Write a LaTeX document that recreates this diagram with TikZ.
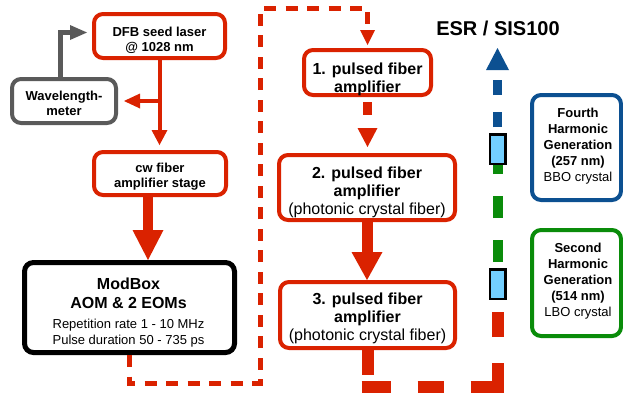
\documentclass[tikz,border=0pt]{standalone}
\usepackage{fontspec}
\setmainfont{Liberation Sans}
\usetikzlibrary{arrows.meta,calc}
\definecolor{myred}{RGB}{218,34,0}
\definecolor{myblue}{RGB}{12,80,145}
\definecolor{mygreen}{RGB}{10,140,10}
\definecolor{mygray}{RGB}{90,90,90}
\definecolor{crys}{RGB}{115,207,255}
\begin{document}
\begin{tikzpicture}[x=1pt,y=-1pt,line join=miter,
  box/.style={draw, rounded corners=9pt, line width=4pt, fill=white, inner sep=0pt},
  redbox/.style={box, draw=myred},
  txt/.style={align=center, inner sep=0pt, anchor=north, font=\fontsize{13}{15}\selectfont\bfseries},
  bigtxt/.style={txt, font=\fontsize{16}{18.2}\selectfont\bfseries},
  crystal/.style={draw=black, fill=crys, line width=2.5pt, inner sep=0pt, minimum width=15.5pt, minimum height=29.5pt},
  beamred/.style={draw=myred, line width=12pt}
]
\useasboundingbox (0,0) rectangle (623,392);

% boxes
\node[redbox, minimum width=131pt, minimum height=44pt] (dfb) at (159.5,36) {};
\node[box, draw=mygray, minimum width=104pt, minimum height=44pt] (wm) at (64,101) {};
\node[redbox, minimum width=132pt, minimum height=43pt] (cw) at (160,173.5) {};
\node[box, draw=black, line width=5pt, minimum width=210pt, minimum height=90pt] (mb) at (129.5,307.5) {};
\node[redbox, minimum width=127pt, minimum height=45pt] (b1) at (367.5,72.5) {};
\node[redbox, minimum width=176pt, minimum height=65pt] (b2) at (367,187.5) {};
\node[redbox, minimum width=175pt, minimum height=66pt] (b3) at (367.5,315) {};
\node[box, draw=myblue, minimum width=89pt, minimum height=105pt] (fh) at (576.5,147.5) {};
\node[box, draw=mygreen, minimum width=89pt, minimum height=106pt] (sh) at (576.5,283) {};
\node[crystal] (cr1) at (497.5,149) {};
\node[crystal] (cr2) at (497.5,284) {};

% texts
\node[txt] (dfbt) at (159.5,27.2) {DFB seed laser\\@ 1028 nm};
\node[txt] (wmt) at (64,90.5) {Wavelength-\\meter};
\node[txt] (cwt) at (160,162.5) {cw fiber\\amplifier stage};
\node[txt, font=\fontsize{16}{19.3}\selectfont\bfseries] (mbt) at (128.5,277.3) {ModBox\\AOM \& 2 EOMs};
\node[txt, font=\fontsize{13}{15.7}\selectfont] (mbd) at (128.5,319) {Repetition rate 1 - 10 MHz\\Pulse duration 50 - 735 ps};
\node[bigtxt] (b1t) at (367.5,62.3) {1. pulsed fiber\\amplifier};
\node[bigtxt] (b2t) at (367,166.6) {2. pulsed fiber\\amplifier\\{\mdseries (photonic crystal fiber)}};
\node[bigtxt] (b3t) at (367.5,292.3) {3. pulsed fiber\\amplifier\\{\mdseries (photonic crystal fiber)}};
\node[txt, font=\fontsize{13}{15.9}\selectfont\bfseries] (fht) at (578,107.8) {Fourth\\Harmonic\\Generation\\(257 nm)\\{\mdseries BBO crystal}};
\node[txt, font=\fontsize{13}{16}\selectfont\bfseries] (sht) at (578,242.8) {Second\\Harmonic\\Generation\\(514 nm)\\{\mdseries LBO crystal}};
\node[inner sep=0pt, anchor=base, font=\fontsize{20}{24}\selectfont\bfseries] (esr) at (498,35) {ESR / SIS100};

% coordinates
\coordinate (wmtip) at (87,32.5);
\coordinate (wmfoot) at ($(wm.north)+(-3.5,0)$);
\coordinate (br) at (dfb.south |- wm.east);
\coordinate (cwo) at ($(cw.south)+(-12,0)$);
\coordinate (d2) at (260,383);
\coordinate (d3) at (260,8);
\coordinate (d4) at (367.5,8);
\coordinate (c1) at (367.5,387);
\coordinate (c2) at (497.5,387);
\coordinate (esrtip) at (497.5,48);

% connectors
\draw[mygray, line width=5pt, -{Triangle[length=17pt,width=15pt,line width=0pt]}] (wmfoot) |- (wmtip);
\draw[myred, line width=4pt, shorten >=5pt, -{Triangle[length=15pt,width=16pt,line width=0pt]}] (dfb.south) -- (dfb.south |- cw.north);
\draw[myred, line width=3.5pt, shorten >=6pt, -{Triangle[length=16pt,width=15pt,line width=0pt]}] (br) -- (wm.east);
\draw[myred, line width=10pt, -{Triangle[length=30pt,width=31pt,line width=0pt]}] (cwo) -- (cwo |- mb.north);
\draw[myred, line width=5pt, dash pattern=on 12pt off 9.5pt, shorten >=3pt, -{Triangle[length=15pt,width=15pt,line width=0pt]}]
  (mb.south) -- (mb.south |- d2) -- (d2) -- (d3) -- (d4) -- (d4 |- b1.north);
\draw[myred, line width=9pt, dash pattern=on 13pt off 13pt, dash phase=21pt, shorten >=6pt, -{Triangle[length=19pt,width=20pt,line width=0pt]}]
  (b1.south) -- (b1.south |- b2.north);
\draw[myred, line width=11pt, -{Triangle[length=28pt,width=31pt,line width=0pt]}] (b2.south) -- (b2.south |- b3.north);

% beam
\draw[beamred, dash pattern=on 25pt off 40pt] (b3.south) -- (c1);
\draw[beamred, dash pattern=on 29pt off 27pt on 26pt off 27pt on 60pt off 10pt, shorten <=-6pt, shorten >=-6pt] (c1) -- (c2);
\draw[beamred, dash pattern=on 24pt off 26pt on 25pt off 40pt] (c2) -- (cr2.south);
\draw[mygreen, line width=10pt, dash pattern=on 22pt off 22pt, dash phase=38pt] (cr2.north) -- (cr1.south);
\draw[myblue, line width=9pt, dash pattern=on 15pt off 17pt, dash phase=26pt, -{Triangle[length=22pt,width=23pt,line width=0pt]}] (cr1.north) -- (esrtip);
\end{tikzpicture}
\end{document}
